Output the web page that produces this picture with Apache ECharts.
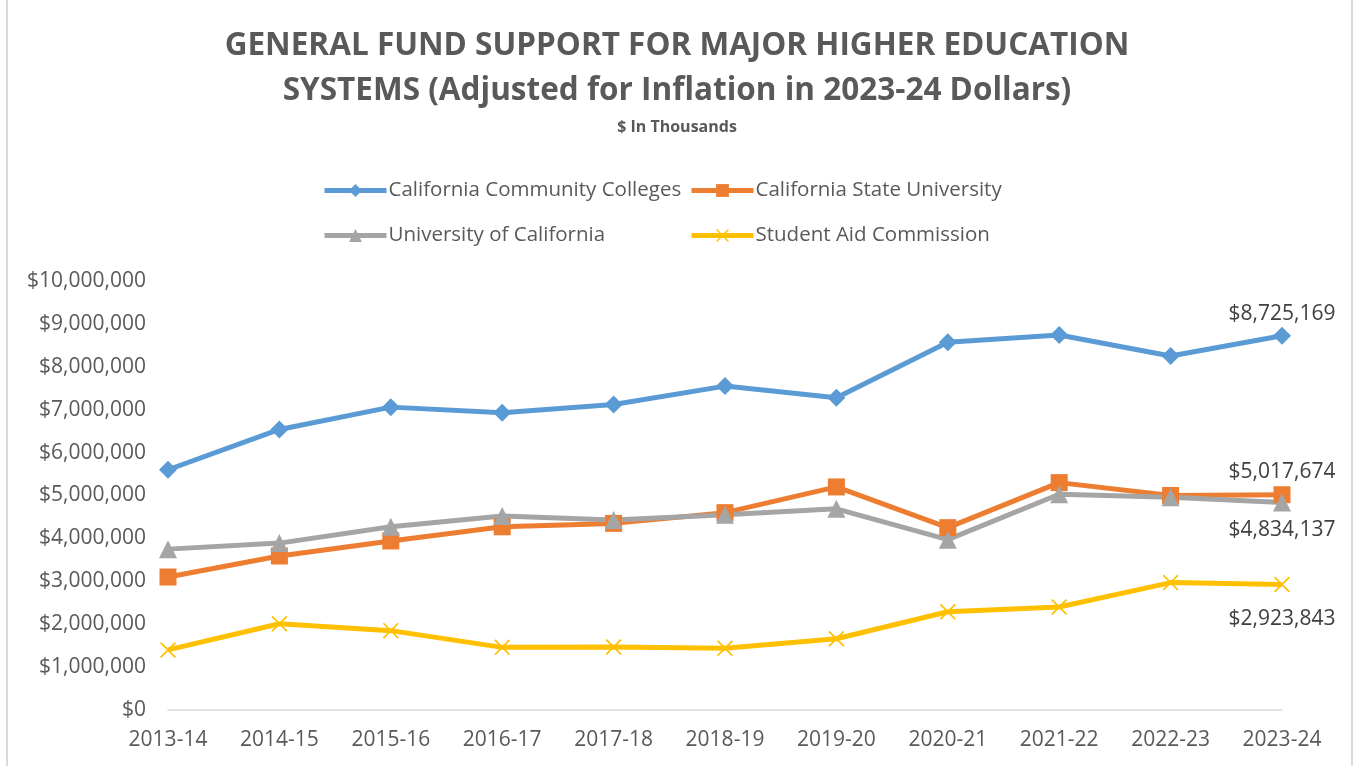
<!DOCTYPE html>
<html><head><meta charset="utf-8">
<script src="https://cdn.jsdelivr.net/npm/echarts@6/dist/echarts.min.js"></script>
<style>html,body{margin:0;padding:0;background:#fff}#c{width:1354px;height:766px}</style>
</head><body><div id="c"></div>
<script>
const categories = ['2013-14','2014-15','2015-16','2016-17','2017-18','2018-19','2019-20','2020-21','2021-22','2022-23','2023-24'];
const ccc = [5600000,6540000,7060000,6930000,7120000,7550000,7280000,8570000,8740000,8250000,8725169];
const csu = [3100000,3590000,3940000,4270000,4350000,4600000,5200000,4250000,5300000,5000000,5017674];
const uc  = [3750000,3890000,4270000,4520000,4430000,4550000,4690000,3970000,5030000,4960000,4834137];
const sac = [1400000,2010000,1850000,1460000,1470000,1440000,1660000,2290000,2400000,2970000,2923843];
const names = ['California Community Colleges','California State University','University of California','Student Aid Commission'];

const FONT = '"Open Sans", "Noto Sans", sans-serif';
const xPath = 'path://M0,1.2 L1.2,0 L8,6.8 L14.8,0 L16,1.2 L9.2,8 L16,14.8 L14.8,16 L8,9.2 L1.2,16 L0,14.8 L6.8,8 Z';
const fmt = v => '$' + Math.round(v).toLocaleString('en-US');

function lastLabel(pos, dist) {
  return {
    show: true, position: pos, distance: dist,
    formatter: p => p.dataIndex === categories.length - 1 ? fmt(p.value) : '',
    color: '#404040', fontSize: 21, fontFamily: FONT
  };
}
function mk(name, data, color, symbol, size, label) {
  return {
    name, type: 'line', data, symbol, symbolSize: size,
    lineStyle: { color, width: 5 }, itemStyle: { color },
    label, z: 3
  };
}
const chart = echarts.init(document.getElementById('c'));
const legendBase = { itemWidth: 62, itemHeight: 16, itemGap: 4,
  lineStyle: { width: 5 },
  textStyle: { color: '#595959', fontSize: 20.5, fontFamily: FONT, padding: [0,0,0,-3] } };
chart.setOption({
  animation: false,
  backgroundColor: '#fff',
  title: [
    { text: 'GENERAL FUND SUPPORT FOR MAJOR HIGHER EDUCATION\nSYSTEMS (Adjusted for Inflation in 2023-24 Dollars)',
      left: 'center', top: 19,
      textStyle: { color: '#595959', fontSize: 31.5, fontWeight: 'bold', fontFamily: FONT, lineHeight: 45, align: 'center' } },
    { text: '$ In Thousands', left: 'center', top: 114,
      textStyle: { color: '#595959', fontSize: 16, fontWeight: 'bold', fontFamily: FONT } }
  ],
  legend: [
    Object.assign({ data: [names[0]], left: 317, top: 175 }, legendBase),
    Object.assign({ data: [names[1]], left: 684, top: 175 }, legendBase),
    Object.assign({ data: [names[2]], left: 317, top: 220 }, legendBase),
    Object.assign({ data: [names[3]], left: 684, top: 220 }, legendBase)
  ],
  grid: { left: 168, right: 72, top: 281, bottom: 56, containLabel: false },
  xAxis: {
    type: 'category', data: categories, boundaryGap: false,
    axisLine: { lineStyle: { color: '#D9D9D9', width: 1.5 } },
    axisTick: { show: false },
    axisLabel: { color: '#595959', fontSize: 21, fontFamily: FONT, margin: 20 }
  },
  yAxis: {
    type: 'value', min: 0, max: 10000000, interval: 1000000,
    axisLine: { show: false }, axisTick: { show: false },
    splitLine: { show: false },
    axisLabel: { color: '#595959', fontSize: 21, fontFamily: FONT, margin: 22, formatter: v => fmt(v) }
  },
  series: [
    mk(names[0], ccc, '#5B9BD5', 'diamond', 18, lastLabel('top', 2)),
    mk(names[1], csu, '#ED7D31', 'rect', 17, lastLabel('top', 4)),
    mk(names[2], uc, '#A5A5A5', 'triangle', 18, lastLabel('bottom', 8)),
    mk(names[3], sac, '#FFC000', xPath, 16, lastLabel('bottom', 16))
  ],
  graphic: [
    { type: 'line', shape: { x1: 7, y1: 0, x2: 7, y2: 766 }, style: { stroke: '#D9D9D9', lineWidth: 2 } },
    { type: 'line', shape: { x1: 1352, y1: 0, x2: 1352, y2: 766 }, style: { stroke: '#D9D9D9', lineWidth: 2 } }
  ]
});
</script></body></html>
